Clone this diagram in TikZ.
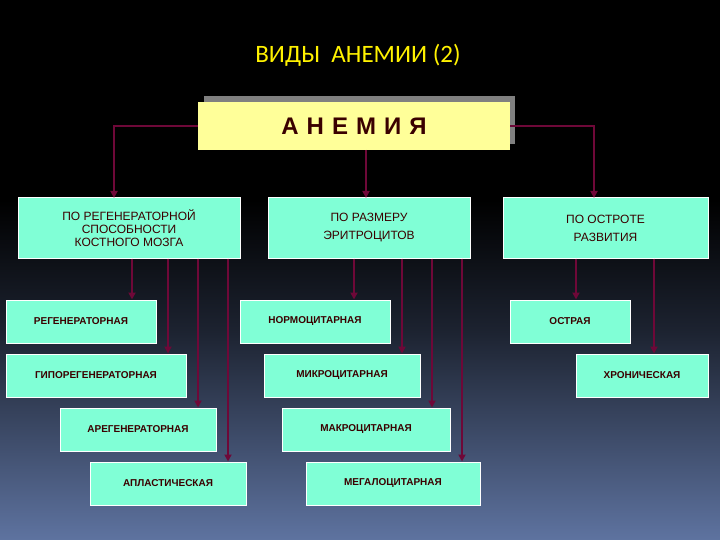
\documentclass[tikz,border=0pt]{standalone}
\usetikzlibrary{arrows.meta}
\usepackage{fontspec}
\setmainfont{Liberation Sans}
\newfontfamily\titlefont{Carlito}
\definecolor{bx}{HTML}{80FFD6}
\definecolor{tx}{HTML}{3A0000}
\definecolor{ar}{HTML}{6E0838}
\definecolor{bgb}{HTML}{5E73A0}
\definecolor{ye}{HTML}{FFFF99}
\begin{document}
\begin{tikzpicture}[x=1pt,y=-1pt,
 bb/.style={draw=white,line width=1pt,fill=bx,text=tx,align=center,inner sep=0pt},
 arr/.style={draw=ar,line width=2.5pt,-{Triangle[length=7pt,width=7pt]}}]
\useasboundingbox (0,0) rectangle (720,540);
\fill[black] (0,0) rectangle (720,200);
\shade[top color=black,bottom color=black!70!bgb] (0,200) rectangle (720,330);
\shade[top color=black!70!bgb,bottom color=bgb] (0,330) rectangle (720,540);
\node[text=yellow,font=\titlefont\fontsize{25}{28}\selectfont] (t) at (358,55) {ВИДЫ\ \ АНЕМИИ (2)};
\fill[gray] (204,96) rectangle (515,144);
\node[fill=ye,minimum width=312pt,minimum height=48pt,inner sep=0pt,text=tx,font=\bfseries\fontsize{24}{26}\selectfont] (a) at (354,126) {А\,\,Н\,\,Е\,\,М\,\,И\,\,Я};
\begin{scope}[font=\fontsize{12}{14}\selectfont]
\node[bb,minimum width=222pt,minimum height=60pt] (l) at (129,228) {ПО РЕГЕНЕРАТОРНОЙ\\[-1pt]СПОСОБНОСТИ\\[-1pt]КОСТНОГО МОЗГА};
\node[bb,minimum width=202pt,minimum height=60pt] (m) at (369,228) {ПО РАЗМЕРУ\\[4pt]ЭРИТРОЦИТОВ};
\node[bb,minimum width=205pt,minimum height=60pt] (r) at (605.5,228) {ПО ОСТРОТЕ\\[4pt]РАЗВИТИЯ};
\end{scope}
\begin{scope}[font=\bfseries\fontsize{10}{12}\selectfont,every node/.append style={bb,minimum height=43pt}]
\node[minimum width=150pt] (l1) at (81,321.5) {РЕГЕНЕРАТОРНАЯ};
\node[minimum width=180pt] (l2) at (96,375.5) {ГИПОРЕГЕНЕРАТОРНАЯ};
\node[minimum width=156pt] (l3) at (138,429.5) {АРЕГЕНЕРАТОРНАЯ};
\node[minimum width=156pt] (l4) at (168,483.5) {АПЛАСТИЧЕСКАЯ};
\node[minimum width=150pt] (m1) at (315,321.5) {НОРМОЦИТАРНАЯ};
\node[minimum width=156pt] (m2) at (342,375.5) {МИКРОЦИТАРНАЯ};
\node[minimum width=168pt] (m3) at (366,429.5) {МАКРОЦИТАРНАЯ};
\node[minimum width=174pt] (m4) at (393,483.5) {МЕГАЛОЦИТАРНАЯ};
\node[minimum width=120pt] (r1) at (570,321.5) {ОСТРАЯ};
\node[minimum width=132pt] (r2) at (642,375.5) {ХРОНИЧЕСКАЯ};
\end{scope}
\draw[arr] (a.west) -- (114,126) -- (114,198);
\draw[arr] (a.east) -- (594,126) -- (594,198);
\draw[arr] (366,150) -- (366,198);
\draw[arr] (l.south -| 132,0) -- (l1.north -| 132,0);
\draw[arr] (l.south -| 168,0) -- (l2.north -| 168,0);
\draw[arr] (l.south -| 198,0) -- (l3.north -| 198,0);
\draw[arr] (l.south -| 228,0) -- (l4.north -| 228,0);
\draw[arr] (m.south -| 354,0) -- (m1.north -| 354,0);
\draw[arr] (m.south -| 402,0) -- (m2.north -| 402,0);
\draw[arr] (m.south -| 432,0) -- (m3.north -| 432,0);
\draw[arr] (m.south -| 462,0) -- (m4.north -| 462,0);
\draw[arr] (r.south -| 576,0) -- (r1.north -| 576,0);
\draw[arr] (r.south -| 654,0) -- (r2.north -| 654,0);
\end{tikzpicture}
\end{document}
